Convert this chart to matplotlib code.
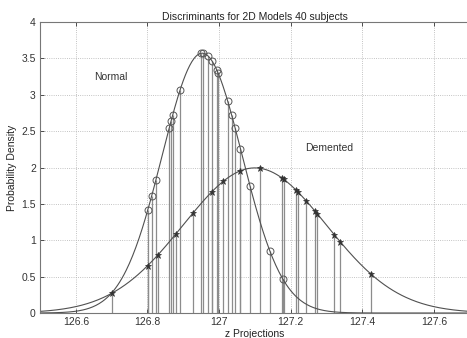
import numpy as np
import matplotlib
matplotlib.use('Agg')
import matplotlib.pyplot as plt

plt.rcParams['font.family'] = ['Liberation Sans', 'DejaVu Sans']

# fitted discriminant densities (mean, std)
normal_mu, normal_sd = 126.953, 0.1117
dement_mu, dement_sd = 127.10, 0.200

# z projections of the subjects
normal_z = [126.801, 126.812, 126.824, 126.861, 126.866, 126.871, 126.891,
            126.949, 126.956, 126.970, 126.980, 126.994, 126.998, 127.024,
            127.035, 127.045, 127.060, 127.087, 127.142, 127.179]
dement_z = [126.702, 126.801, 126.830, 126.880, 126.928, 126.980, 127.012,
            127.059, 127.115, 127.175, 127.181, 127.215, 127.221, 127.243,
            127.268, 127.275, 127.322, 127.338, 127.425]

xticks = [126.6, 126.8, 127, 127.2, 127.4, 127.6]
xtick_labels = ['126.6', '126.8', '127', '127.2', '127.4', '127.6']
yticks = [0, 0.5, 1, 1.5, 2, 2.5, 3, 3.5, 4]
ytick_labels = ['0', '0.5', '1', '1.5', '2', '2.5', '3', '3.5', '4']


def pdf(x, mu, sd):
    x = np.asarray(x)
    return np.exp(-0.5 * ((x - mu) / sd) ** 2) / (sd * np.sqrt(2 * np.pi))


fig = plt.figure(figsize=(4.67, 3.38), dpi=100)
W, H = 467.0, 338.0
ax = fig.add_axes([40 / W, 25 / H, 429.6 / W, 291 / H])

xs = np.linspace(126.5, 127.7, 400)
line_col = '#505050'
stem_col = '#8c8c8c'

# stems
ny = pdf(normal_z, normal_mu, normal_sd)
dy = pdf(dement_z, dement_mu, dement_sd)
ax.vlines(normal_z, 0, ny, color=stem_col, lw=0.9)
ax.vlines(dement_z, 0, dy, color=stem_col, lw=0.9)

# curves
ax.plot(xs, pdf(xs, normal_mu, normal_sd), color=line_col, lw=0.8)
ax.plot(xs, pdf(xs, dement_mu, dement_sd), color=line_col, lw=0.8)

# markers
ax.plot(normal_z, ny, 'o', mfc='none', mec='#555555', ms=5, mew=0.7)
ax.plot(dement_z, dy, '*', color='#333333', ms=4.5, mew=0.5)

ax.text(126.65, 3.2, 'Normal', fontsize=7.5, color='#333333')
ax.text(127.24, 2.22, 'Demented', fontsize=7.5, color='#333333')

ax.set_xlim(126.5, 127.7)
ax.set_ylim(0, 4)
ax.set_xticks(xticks)
ax.set_xticklabels(xtick_labels)
ax.set_yticks(yticks)
ax.set_yticklabels(ytick_labels)
ax.tick_params(direction='in', labelsize=7.5, length=3, width=0.6,
               colors='#333333', top=True, right=False, pad=3)
ax.grid(True, linestyle=':', color='#b0b0b0', lw=0.6)
ax.set_axisbelow(True)
for s in ax.spines.values():
    s.set_color('#777777')
    s.set_linewidth(0.8)

ax.set_title('Discriminants for 2D Models 40 subjects', fontsize=7.5,
             color='#222222', pad=1.5)
ax.set_xlabel('z Projections', fontsize=7.5, color='#222222', labelpad=1)
ax.set_ylabel('Probability Density', fontsize=7.5, color='#222222', labelpad=3)

fig.savefig('out.png', dpi=100)
